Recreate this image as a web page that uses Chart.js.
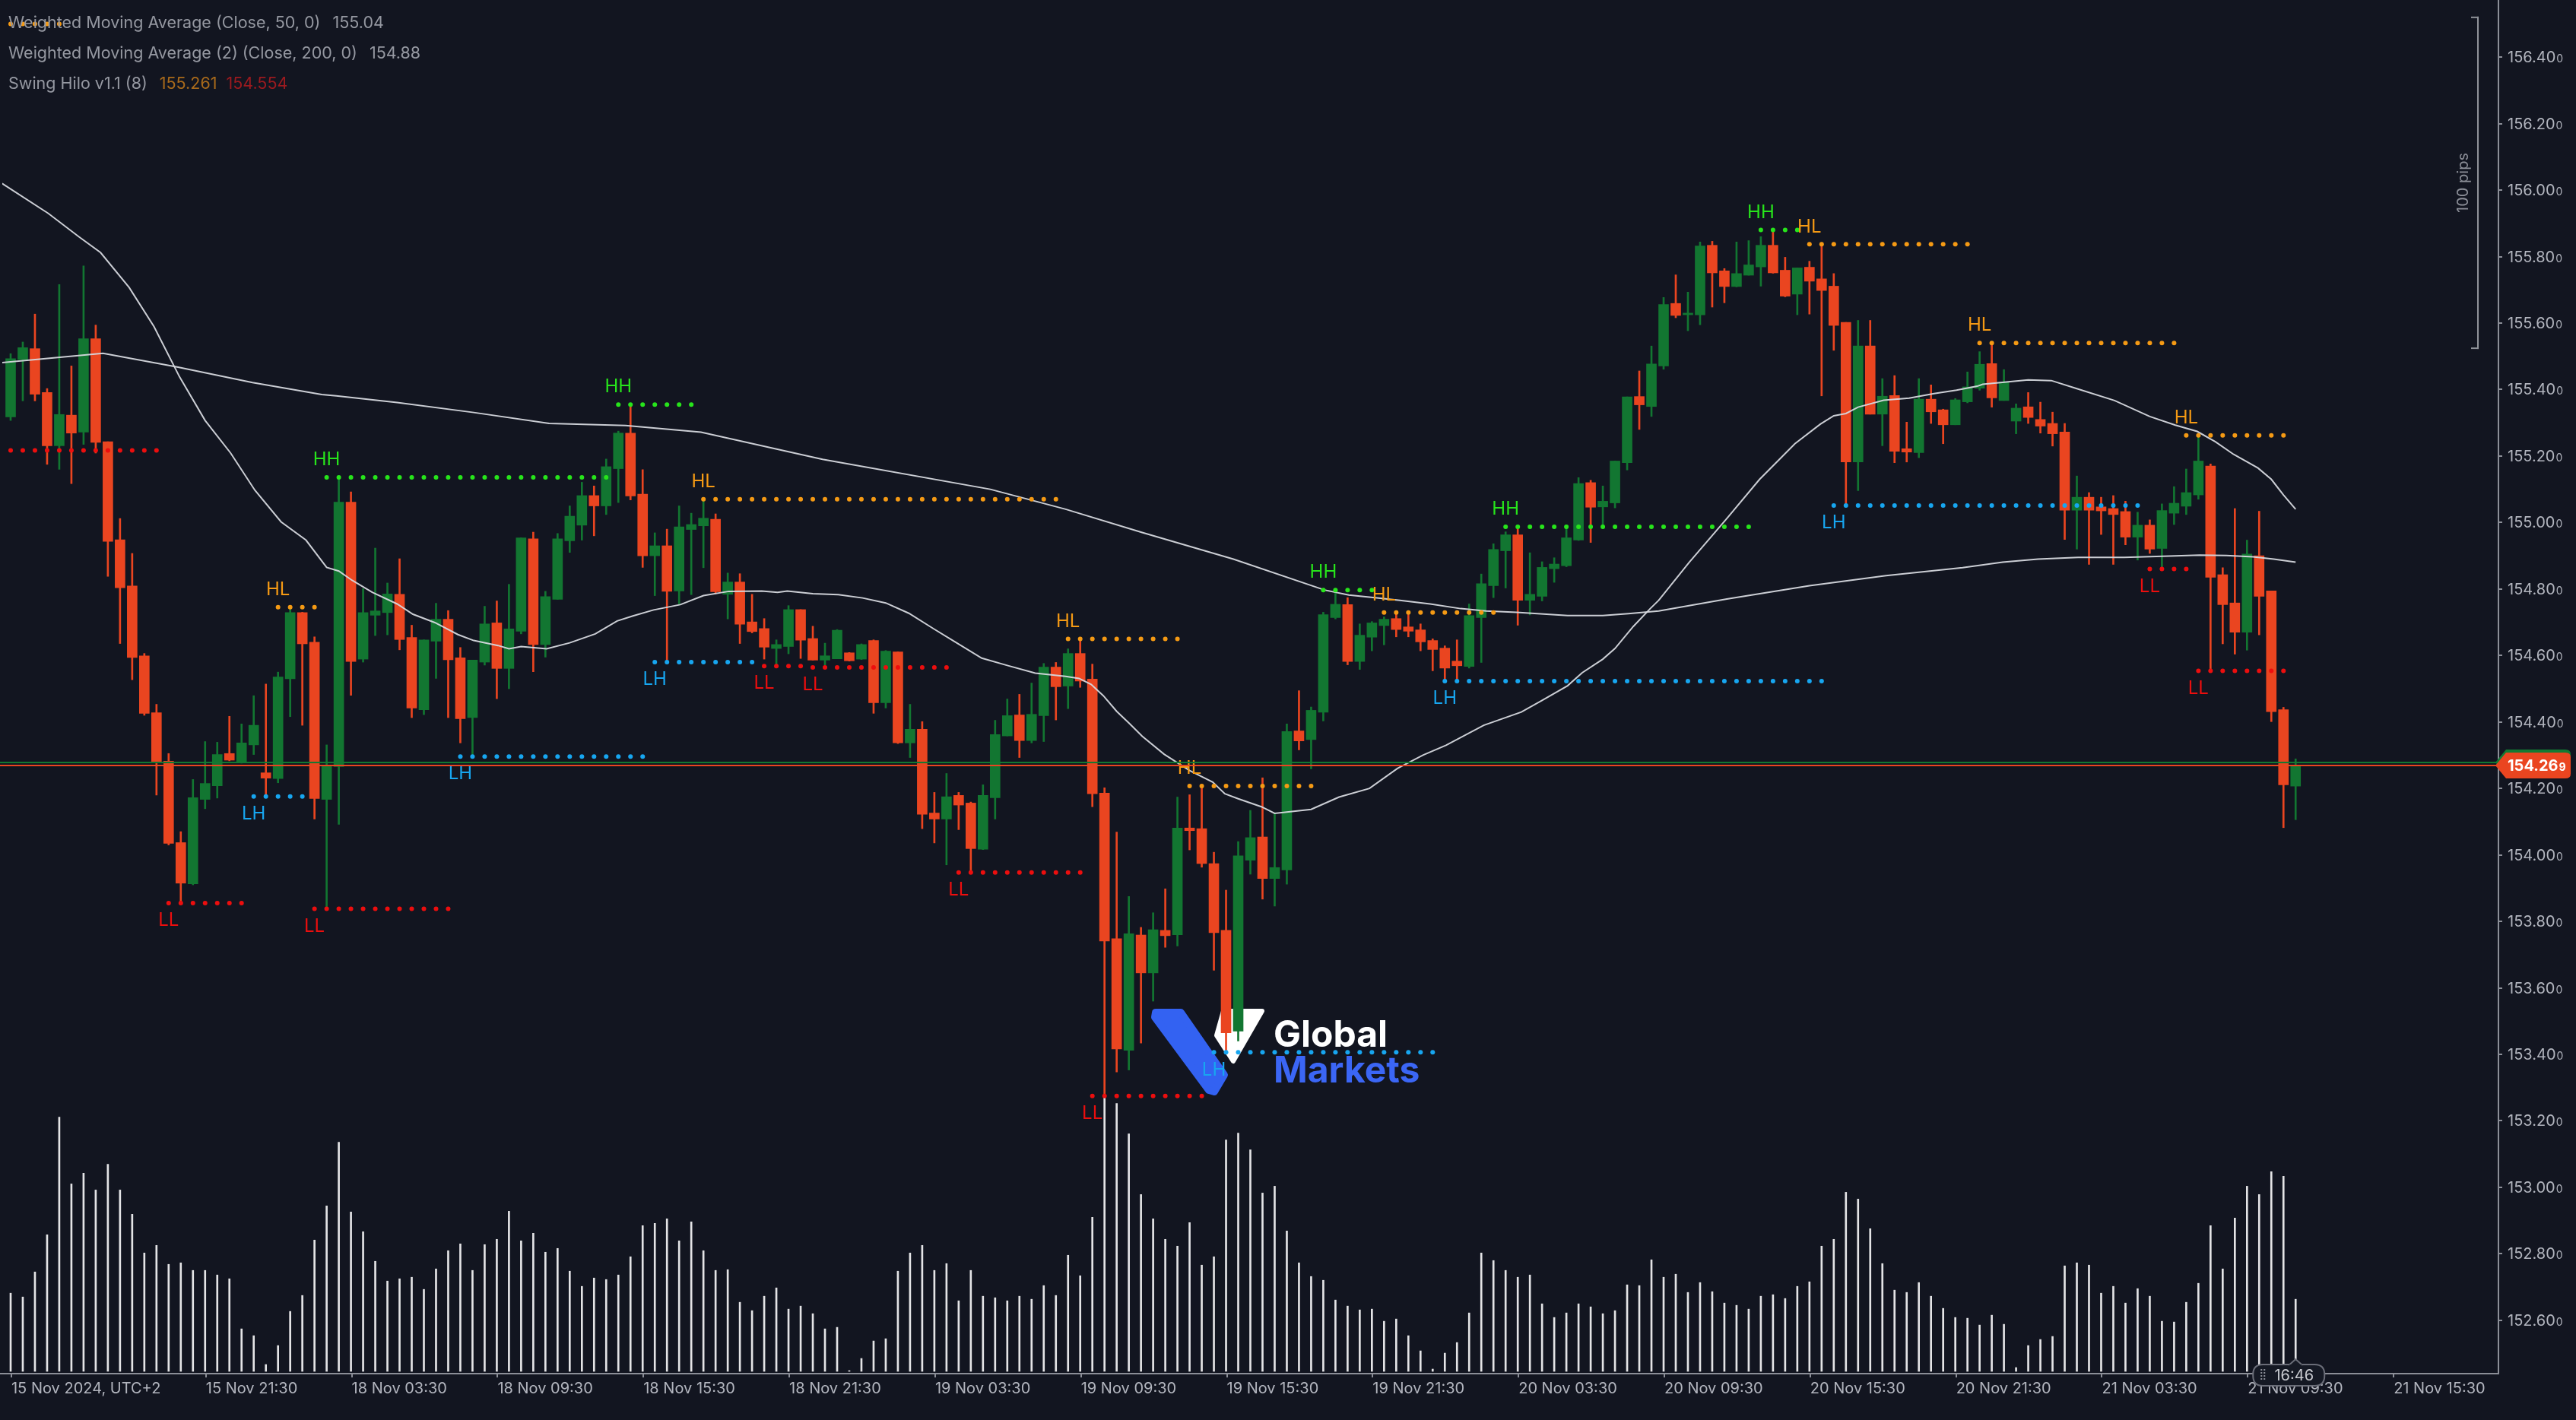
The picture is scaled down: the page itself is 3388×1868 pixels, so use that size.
<!DOCTYPE html>
<html><head><meta charset="utf-8">
<script src="https://cdn.jsdelivr.net/npm/chart.js@4.4.1/dist/chart.umd.min.js"></script>
<style>html,body{margin:0;padding:0;background:#121520;overflow:hidden}canvas{display:block}</style>
</head><body>
<canvas id="c" width="3388" height="1868"></canvas>
<script>
// ---------- DATA ----------
const opens = [155.318,155.490,155.523,155.391,155.231,155.323,155.272,155.553,155.243,154.948,
154.809,154.599,154.428,154.282,154.037,153.913,154.167,154.208,154.305,154.278,
154.331,154.247,154.230,154.530,154.729,154.640,154.167,154.266,155.061,154.589,
154.721,154.729,154.784,154.654,154.437,154.643,154.709,154.593,154.413,154.580,
154.698,154.561,154.673,154.951,154.633,154.769,154.945,154.992,155.081,155.050,
155.162,155.269,155.085,154.900,154.930,154.794,154.979,154.990,155.010,154.784,
154.821,154.701,154.681,154.621,154.627,154.738,154.651,154.586,154.590,154.608,
154.589,154.645,154.458,154.611,154.337,154.378,154.126,154.108,154.179,154.156,
154.017,154.172,154.358,154.421,154.344,154.419,154.565,154.508,154.606,154.529,
154.186,153.748,153.412,153.759,153.645,153.773,153.760,154.081,154.079,153.974,
153.773,153.470,153.984,154.054,153.929,153.955,154.373,154.347,154.429,154.714,
154.753,154.582,154.655,154.690,154.711,154.686,154.677,154.645,154.622,154.583,
154.567,154.714,154.810,154.915,154.963,154.766,154.778,154.861,154.870,154.947,
155.120,155.047,155.059,155.180,155.379,155.349,155.471,155.659,155.625,155.625,
155.834,155.757,155.710,155.744,155.769,155.834,155.759,155.687,155.768,155.733,
155.711,155.602,155.182,155.531,155.326,155.382,155.222,155.210,155.371,155.339,
155.294,155.363,155.404,155.478,155.367,155.305,155.348,155.310,155.298,155.272,
155.037,155.076,155.047,155.042,155.033,154.956,154.992,154.922,155.028,155.049,
155.083,155.170,154.843,154.758,154.670,154.900,154.794,154.437,154.207];

const highs = [155.508,155.543,155.627,155.403,155.716,155.471,155.772,155.594,155.243,155.012,
154.907,154.606,154.453,154.305,154.070,154.227,154.341,154.339,154.417,154.394,
154.479,154.514,154.550,154.745,154.730,154.656,154.331,155.136,155.092,154.801,
154.923,154.818,154.891,154.691,154.647,154.757,154.735,154.624,154.586,154.748,
154.764,154.814,154.954,154.971,154.793,154.967,155.050,155.121,155.110,155.191,
155.275,155.355,155.159,154.969,154.980,155.050,155.028,155.070,155.026,154.848,
154.846,154.784,154.711,154.647,154.750,154.738,154.688,154.637,154.678,154.609,
154.635,154.647,154.615,154.611,154.453,154.401,154.188,154.245,154.188,154.159,
154.211,154.405,154.469,154.483,154.517,154.576,154.579,154.620,154.650,154.574,
154.202,154.069,153.875,153.782,153.826,153.898,154.174,154.181,154.204,154.008,
153.894,154.040,154.134,154.232,154.125,154.394,154.494,154.445,154.730,154.791,
154.774,154.695,154.702,154.716,154.724,154.723,154.695,154.650,154.629,154.647,
154.755,154.845,154.936,154.972,154.982,154.909,154.882,154.894,154.982,155.135,
155.127,155.110,155.185,155.378,155.456,155.531,155.677,155.745,155.693,155.844,
155.846,155.764,155.844,155.848,155.860,155.876,155.798,155.766,155.786,155.838,
155.749,155.602,155.608,155.608,155.433,155.442,155.302,155.433,155.414,155.341,
155.373,155.453,155.514,155.535,155.460,155.357,155.391,155.362,155.332,155.298,
155.140,155.090,155.076,155.081,155.064,155.031,155.008,155.056,155.108,155.161,
155.261,155.176,154.864,155.042,154.947,155.034,154.794,154.444,154.289];

const lows = [155.307,155.366,155.366,155.175,155.160,155.117,155.235,155.209,154.838,154.636,
154.527,154.420,154.180,154.030,153.859,153.910,154.139,154.171,154.283,154.276,
154.302,154.180,154.217,154.416,154.390,154.108,153.837,154.092,154.480,154.580,
154.660,154.662,154.617,154.413,154.422,154.531,154.413,154.337,154.296,154.571,
154.470,154.500,154.665,154.551,154.595,154.769,154.910,154.947,154.960,155.024,
155.060,155.068,154.865,154.780,154.580,154.755,154.783,154.864,154.786,154.710,
154.636,154.668,154.589,154.571,154.605,154.591,154.586,154.571,154.590,154.583,
154.588,154.426,154.442,154.335,154.293,154.079,154.036,153.970,154.076,153.947,
154.016,154.108,154.358,154.293,154.337,154.341,154.406,154.440,154.504,154.145,
153.275,153.347,153.353,153.434,153.560,153.722,153.726,154.015,153.963,153.653,
153.412,153.440,153.942,153.867,153.846,153.912,154.316,154.259,154.403,154.710,
154.572,154.558,154.614,154.632,154.656,154.656,154.614,154.554,154.523,154.523,
154.562,154.579,154.774,154.803,154.691,154.722,154.764,154.820,154.867,154.946,
154.940,154.990,155.044,155.158,155.280,155.319,155.461,155.616,155.577,155.595,
155.648,155.661,155.709,155.744,155.711,155.750,155.679,155.625,155.627,155.381,
155.518,155.051,155.096,155.326,155.231,155.180,155.182,155.195,155.298,155.237,
155.294,155.360,155.398,155.347,155.367,155.267,155.298,155.269,155.230,154.949,
154.920,154.874,154.964,154.874,154.933,154.887,154.907,154.861,154.994,155.024,
155.070,154.554,154.635,154.604,154.616,154.662,154.401,154.082,154.106];

const closes = [155.493,155.526,155.386,155.231,155.325,155.269,155.553,155.241,154.943,154.804,
154.594,154.426,154.281,154.035,153.915,154.172,154.215,154.302,154.285,154.337,
154.390,154.231,154.535,154.729,154.635,154.170,154.268,155.061,154.582,154.729,
154.734,154.785,154.648,154.442,154.647,154.709,154.587,154.410,154.586,154.695,
154.561,154.680,154.954,154.633,154.777,154.951,155.019,155.081,155.050,155.168,
155.269,155.080,154.900,154.930,154.793,154.987,154.994,155.013,154.792,154.821,
154.694,154.672,154.625,154.633,154.738,154.646,154.586,154.599,154.676,154.584,
154.633,154.458,154.613,154.337,154.378,154.122,154.108,154.175,154.150,154.019,
154.179,154.362,154.419,154.344,154.423,154.565,154.506,154.606,154.523,154.184,
153.741,153.416,153.763,153.645,153.775,153.757,154.081,154.073,153.974,153.766,
153.465,153.997,154.052,153.929,153.962,154.371,154.343,154.435,154.723,154.754,
154.582,154.661,154.698,154.709,154.678,154.673,154.641,154.618,154.562,154.569,
154.720,154.816,154.919,154.963,154.766,154.784,154.865,154.875,154.954,155.117,
155.046,155.064,155.185,155.378,155.354,155.477,155.656,155.623,155.630,155.832,
155.751,155.710,155.749,155.775,155.834,155.751,155.681,155.766,155.726,155.698,
155.593,155.182,155.531,155.326,155.380,155.214,155.212,155.371,155.333,155.294,
155.369,155.408,155.476,155.375,155.422,155.344,155.316,155.290,155.267,155.037,
155.076,155.037,155.035,155.024,154.956,154.992,154.920,155.036,155.058,155.090,
155.185,154.835,154.753,154.670,154.905,154.778,154.431,154.211,154.269];

const volumes = [103,98,131,180,335,247,261,239,273,239,
207,156,166,141,143,133,133,127,122,56,
47,9,34,79,100,173,218,302,210,184,
145,119,122,124,108,135,159,168,133,167,
174,211,172,182,157,162,132,112,123,121,
127,151,192,195,201,172,197,159,133,134,
91,80,99,110,82,86,76,56,58,1,
17,40,43,132,156,166,133,142,93,133,
99,97,93,99,95,113,100,153,126,203,
362,353,313,233,201,174,165,196,140,151,
305,314,292,235,244,185,143,125,120,94,
86,81,82,66,69,47,27,3,24,38,
77,156,146,133,124,127,89,71,77,89,
85,76,80,114,113,147,124,128,104,117,
105,90,87,82,99,101,96,112,118,165,
174,236,227,188,142,107,104,117,99,83,
71,70,61,74,62,5,34,42,46,139,
143,140,103,112,90,109,99,66,65,91,
116,192,135,202,244,233,263,257,95];

// WMA(50) and WMA(200): [candle index, value]
const wma50 = [[-0.7,156.02],[3.1,155.93],[5.6,155.86],[7.4,155.812],[9.75,155.707],[11.8,155.589],[13.9,155.438],[16.0,155.307],[18.1,155.209],[20.1,155.097],[22.25,155.002],[24.3,154.947],[26.0,154.865],[27.0,154.854],[28.1,154.826],[29.75,154.79],[31.8,154.755],[33.1,154.724],[34.9,154.699],[36.8,154.663],[38.1,154.645],[40.1,154.63],[41.0,154.62],[42.0,154.627],[44.1,154.62],[46.0,154.638],[48.1,154.665],[49.9,154.704],[51.2,154.719],[52.9,154.737],[55.1,154.753],[57.0,154.78],[59.1,154.793],[61.8,154.794],[63.1,154.79],[63.9,154.794],[66.0,154.786],[68.1,154.783],[70.1,154.773],[72.0,154.758],[73.9,154.727],[76.0,154.679],[77.6,154.643],[79.9,154.592],[82.0,154.57],[84.3,154.547],[86.8,154.537],[87.9,154.531],[88.9,154.513],[89.9,154.479],[91.0,154.432],[92.0,154.397],[93.1,154.357],[94.9,154.303],[97.0,154.254],[98.9,154.219],[99.9,154.184],[101.0,154.169],[102.9,154.145],[104.0,154.125],[107.0,154.137],[109.3,154.174],[111.8,154.20],[114.1,154.26],[116.2,154.30],[118.1,154.33],[121.2,154.39],[124.3,154.43],[126.0,154.465],[128.1,154.509],[129.3,154.548],[131.0,154.589],[132.0,154.621],[133.5,154.687],[134.9,154.741],[135.6,154.766],[138.1,154.88],[141.2,155.012],[143.9,155.13],[146.8,155.237],[148.9,155.296],[150.0,155.321],[151.0,155.328],[152.0,155.347],[154.1,155.368],[156.2,155.374],[158.25,155.388],[160.1,155.398],[161.8,155.41],[162.25,155.416],[166.0,155.429],[167.9,155.427],[169.9,155.404],[173.1,155.367],[176.0,155.319],[178.1,155.293],[179.9,155.274],[181.4,155.243],[182.9,155.205],[184.9,155.164],[186.0,155.13],[187.0,155.083],[188.0,155.04]];
const wma200 = [[-0.7,155.481],[7.6,155.509],[13.7,155.468],[19.9,155.421],[25.6,155.385],[26.8,155.381],[31.8,155.361],[38.1,155.331],[44.3,155.298],[50.6,155.292],[56.8,155.272],[66.8,155.19],[80.6,155.10],[86.8,155.04],[93.1,154.97],[100.6,154.89],[108.1,154.797],[110.1,154.782],[112.25,154.774],[114.3,154.766],[116.8,154.755],[119.3,154.741],[121.4,154.734],[123.9,154.73],[128.1,154.72],[131.0,154.72],[133.1,154.726],[135.6,154.734],[141.2,154.77],[148.0,154.81],[154.3,154.84],[160.6,154.864],[163.9,154.881],[166.8,154.89],[170.1,154.895],[173.9,154.895],[177.6,154.899],[180.1,154.902],[182.3,154.901],[184.5,154.897],[186.2,154.89],[188.0,154.881]];

// Swing Hilo segments
const hiloFrom  = [0,0,26,22,20,13,25,37,50,53,57,62,66,78,87,89,97,99,108,113,118,123,144,148,150,162,176,179,180];
const hiloTo    = [4,12,49,25,24,19,36,52,56,61,86,65,77,88,96,98,107,117,112,122,149,143,147,161,175,178,179,187,187];
const hiloPrice = [156.50,155.217,155.136,154.745,154.176,153.855,153.838,154.296,155.355,154.580,155.070,154.568,154.564,153.947,154.650,153.275,154.207,153.406,154.797,154.729,154.523,154.987,155.880,155.837,155.051,155.540,154.860,155.262,154.554];
const hiloType  = ['HL','LL','HH','HL','LH','LL','LL','LH','HH','LH','HL','LL','LL','LL','HL','LL','HL','LH','HH','HL','LH','HH','HH','HL','LH','HL','LL','HL','LL'];
const hiloShowLabel = [0,0,1,1,1,1,1,1,1,1,1,1,1,1,1,1,1,1,1,1,1,1,1,1,1,1,1,1,1];

const priceTicks = [152.6,152.8,153.0,153.2,153.4,153.6,153.8,154.0,154.2,154.4,154.6,154.8,155.0,155.2,155.4,155.6,155.8,156.0,156.2,156.4];
const timeTickIdx = [0,16,28,40,52,64,76,88,100,112,124,136,148,160,172,184,196];
const timeTickLabels = ['15 Nov 2024, UTC+2','15 Nov 21:30','18 Nov 03:30','18 Nov 09:30','18 Nov 15:30','18 Nov 21:30','19 Nov 03:30','19 Nov 09:30','19 Nov 15:30','19 Nov 21:30','20 Nov 03:30','20 Nov 09:30','20 Nov 15:30','20 Nov 21:30','21 Nov 03:30','21 Nov 09:30','21 Nov 15:30'];

const bidPrice = 154.269;
const askPrice = 154.278;
const pipsTop = 156.522, pipsBottom = 155.522;
const legendNames = ['Weighted Moving Average (Close, 50, 0)','Weighted Moving Average (2) (Close, 200, 0)','Swing Hilo v1.1 (8)'];
const legendValues = [['155.04'],['154.88'],['155.261','154.554']];
const currentTimeLabel = '16:46';

// ---------- STYLE ----------
const FONT = 'Inter, Roboto, "Noto Sans", sans-serif';
const BG = '#121520', UP = '#127631', DOWN = '#ea4520', VOL = '#e4e4e6';
const WMA_COLOR = 'rgba(214,216,222,0.95)';
const AXIS_LINE = '#8b8e97', AXIS_TEXT = '#b2b5be', LEGEND_TEXT = '#9598a1';
const HILO_COLORS = {HH:'#27e41b', HL:'#f59a14', LH:'#17a6f0', LL:'#ec0e0e'};
const LEGEND_VALUE_COLORS = [[LEGEND_TEXT],[LEGEND_TEXT],['#a96a1b','#9c1a1f']];

const candleColors = closes.map((c,i)=> c >= opens[i] ? UP : DOWN);

function hiloDataset(type){
  const pts = [];
  hiloType.forEach((t,k)=>{ if(t!==type) return; for(let i=hiloFrom[k];i<=hiloTo[k];i++) pts.push({x:i,y:hiloPrice[k]}); });
  return {type:'line', label:type, data:pts, yAxisID:'y', showLine:false, pointRadius:3, pointHoverRadius:3,
    pointBackgroundColor:HILO_COLORS[type], pointBorderWidth:0, order:3};
}

function rr(c,x,y,w,h,r){c.beginPath();c.moveTo(x+r,y);c.lineTo(x+w-r,y);c.quadraticCurveTo(x+w,y,x+w,y+r);c.lineTo(x+w,y+h-r);c.quadraticCurveTo(x+w,y+h,x+w-r,y+h);c.lineTo(x+r,y+h);c.quadraticCurveTo(x,y+h,x,y+h-r);c.lineTo(x,y+r);c.quadraticCurveTo(x,y,x+r,y);c.closePath();}

function drawLogo(c){
  c.save();
  c.lineJoin='round';
  c.fillStyle='#3362f2'; c.strokeStyle='#3362f2'; c.lineWidth=10;
  c.beginPath(); c.moveTo(1520,1332); c.lineTo(1553,1332); c.lineTo(1610,1414); c.lineTo(1597,1436); c.lineTo(1590,1434); c.lineTo(1519,1338); c.closePath(); c.fill(); c.stroke();
  c.fillStyle='#ffffff'; c.strokeStyle='#ffffff'; c.lineWidth=6;
  c.beginPath(); c.moveTo(1609,1330); c.lineTo(1660,1330); c.lineTo(1622,1396); c.lineTo(1600,1362); c.closePath(); c.fill(); c.stroke();
  c.textBaseline='alphabetic'; c.textAlign='left';
  c.font='bold 48px '+FONT; c.fillStyle='#ffffff'; c.fillText('Global',1675,1377);
  c.fillStyle='#3b66f5'; c.fillText('Markets',1675,1424);
  c.restore();
}

function priceTag(c,x,y,color,h){
  c.fillStyle=color; c.beginPath();
  c.moveTo(x,y); c.lineTo(x+14,y-h/2); c.lineTo(3374,y-h/2); c.quadraticCurveTo(3381,y-h/2,3381,y-h/2+6);
  c.lineTo(3381,y+h/2-6); c.quadraticCurveTo(3381,y+h/2,3374,y+h/2); c.lineTo(x+14,y+h/2); c.closePath(); c.fill();
}

const overlay = {
  id:'overlay',
  beforeDraw(chart){ const c=chart.ctx; c.save(); c.fillStyle=BG; c.fillRect(0,0,chart.width,chart.height); c.restore(); },
  beforeDatasetsDraw(chart){ drawLogo(chart.ctx); },
  afterDatasetsDraw(chart){
    const c=chart.ctx, xs=chart.scales.x, ys=chart.scales.y, a=chart.chartArea;
    c.save();
    c.font='24px '+FONT; c.textAlign='center'; c.textBaseline='middle';
    hiloType.forEach((t,k)=>{
      if(!hiloShowLabel[k]) return;
      const x=xs.getPixelForValue(hiloFrom[k]), y=ys.getPixelForValue(hiloPrice[k]);
      c.fillStyle=HILO_COLORS[t];
      c.fillText(t, x, (t==='HH'||t==='HL') ? y-23 : y+23);
    });
    const ya=ys.getPixelForValue(askPrice), yb=ys.getPixelForValue(bidPrice);
    c.fillStyle='#127a33'; c.fillRect(0,ya-1,a.right,2);
    c.fillStyle='#ea4520'; c.fillRect(0,yb-1,a.right,2);
    c.restore();
  },
  afterDraw(chart){
    const c=chart.ctx, xs=chart.scales.x, ys=chart.scales.y, a=chart.chartArea;
    c.save();
    c.fillStyle=AXIS_LINE;
    c.fillRect(a.right,0,2,a.bottom+2);
    c.fillRect(0,a.bottom,a.right+2,2);
    c.textAlign='left'; c.textBaseline='alphabetic';
    priceTicks.forEach(p=>{
      const y=ys.getPixelForValue(p);
      c.fillStyle=AXIS_LINE; c.fillRect(a.right+2,Math.round(y)-1,4,2);
      const s=p.toFixed(3);
      c.fillStyle=AXIS_TEXT; c.font='20px '+FONT;
      c.fillText(s.slice(0,-1), a.right+13, y+7);
      const w=c.measureText(s.slice(0,-1)).width;
      c.font='14px '+FONT; c.fillText(s.slice(-1), a.right+14+w, y+7);
    });
    c.font='20px '+FONT; c.textBaseline='middle';
    timeTickIdx.forEach((idx,k)=>{
      const x=xs.getPixelForValue(idx);
      c.fillStyle=AXIS_LINE; c.fillRect(Math.round(x),a.bottom+2,2,4);
      c.fillStyle=AXIS_TEXT; c.fillText(timeTickLabels[k], x+1, a.bottom+21);
    });
    const yt=ys.getPixelForValue(pipsTop), ybm=ys.getPixelForValue(pipsBottom);
    c.fillStyle='#8f9299';
    c.fillRect(3258,yt,2,ybm-yt); c.fillRect(3250,yt,10,2); c.fillRect(3250,ybm-2,10,2);
    c.save(); c.translate(3240,(yt+ybm)/2); c.rotate(-Math.PI/2);
    c.textAlign='center'; c.textBaseline='middle'; c.fillStyle='#8b8e97'; c.font='20px '+FONT;
    c.fillText('100 pips',0,0); c.restore();
    const ya=ys.getPixelForValue(askPrice), yb=ys.getPixelForValue(bidPrice);
    priceTag(c,a.right-3,ya,'#127a33',34);
    priceTag(c,a.right-3,yb,'#ea4520',34);
    const ps=bidPrice.toFixed(3);
    c.fillStyle='#ffffff'; c.textAlign='left'; c.textBaseline='alphabetic';
    c.font='bold 20px '+FONT; c.fillText(ps.slice(0,-1),3298,yb+7);
    const pw=c.measureText(ps.slice(0,-1)).width;
    c.font='bold 14px '+FONT; c.fillText(ps.slice(-1),3299+pw,yb+7);
    const xl=xs.getPixelForValue(closes.length-1);
    c.fillStyle='#151924'; c.strokeStyle='#6a6d78'; c.lineWidth=2;
    rr(c,xl-56,1795,94,28,13); c.fill(); c.stroke();
    c.beginPath(); c.moveTo(xl-9,1796); c.lineTo(xl,1788); c.lineTo(xl+9,1796); c.fill(); c.stroke();
    c.fillStyle='#151924'; c.fillRect(xl-8,1795,16,3);
    c.fillStyle='#8b8e97';
    for(let r=0;r<4;r++){ c.fillRect(xl-46,1801+r*4,2,2); c.fillRect(xl-42,1801+r*4,2,2); }
    c.fillStyle='#c8cad0'; c.font='20px '+FONT; c.textAlign='center'; c.textBaseline='middle';
    c.fillText(currentTimeLabel, xl-2, 1810);
    c.textAlign='left'; c.textBaseline='middle'; c.font='21.5px '+FONT;
    legendNames.forEach((n,r)=>{
      const y=31+r*40; let x=11;
      c.fillStyle=LEGEND_TEXT; c.fillText(n,x,y); x+=c.measureText(n).width+16;
      legendValues[r].forEach((v,j)=>{ c.fillStyle=LEGEND_VALUE_COLORS[r][j]; c.fillText(v,x,y); x+=c.measureText(v).width+12; });
    });
    c.restore();
  }
};

const X_MIN = -11/16, X_MAX = X_MIN + 3285/16;
const Y_MAX = 156.40 + 72.3/438, Y_MIN = 156.40 - (1806-72.3)/438;

new Chart(document.getElementById('c').getContext('2d'), {
  type:'bar',
  data:{datasets:[
    {type:'bar', label:'Volume', data:volumes.map((v,i)=>({x:i,y:v})), yAxisID:'yv', backgroundColor:VOL, barThickness:2, grouped:false, order:10},
    {type:'bar', label:'Wick', data:highs.map((h,i)=>({x:i,y:[lows[i],h]})), yAxisID:'y', backgroundColor:candleColors, barThickness:2, grouped:false, order:9},
    {type:'bar', label:'Body', data:opens.map((o,i)=>({x:i,y:[Math.min(o,closes[i]),Math.max(o,closes[i])]})), yAxisID:'y', backgroundColor:candleColors, barThickness:13, minBarLength:2, grouped:false, order:8},
    {type:'line', label:'WMA200', data:wma200.map(p=>({x:p[0],y:p[1]})), yAxisID:'y', borderColor:WMA_COLOR, borderWidth:2, pointRadius:0, tension:0, order:6},
    {type:'line', label:'WMA50', data:wma50.map(p=>({x:p[0],y:p[1]})), yAxisID:'y', borderColor:WMA_COLOR, borderWidth:2, pointRadius:0, tension:0, order:5},
    hiloDataset('HH'), hiloDataset('HL'), hiloDataset('LH'), hiloDataset('LL')
  ]},
  options:{
    responsive:false, animation:false, devicePixelRatio:1, events:[],
    layout:{padding:{left:0,top:0,right:103,bottom:62}},
    plugins:{legend:{display:false}, tooltip:{enabled:false}},
    scales:{
      x:{type:'linear', min:X_MIN, max:X_MAX, offset:false, display:false},
      y:{type:'linear', min:Y_MIN, max:Y_MAX, display:false},
      yv:{type:'linear', min:-2, max:1804, display:false}
    }
  },
  plugins:[overlay]
});
</script>
</body></html>
